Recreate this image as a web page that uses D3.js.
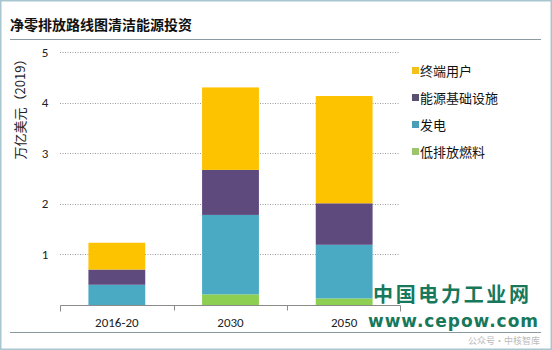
<!DOCTYPE html>
<html><head><meta charset="utf-8">
<script src="https://cdn.jsdelivr.net/npm/d3@7"></script>
<style>body{margin:0;background:#fff;}svg{display:block;}</style>
</head><body>
<svg id="c" width="552" height="350"></svg>
<script>
const categories = ["2016-20", "2030", "2050"];
const seriesNames = ["低排放燃料", "发电", "能源基础设施", "终端用户"];
const lowEmissionFuels = [0.00, 0.21, 0.13];
const powerGeneration = [0.40, 1.57, 1.06];
const infrastructure = [0.30, 0.89, 0.82];
const endUse = [0.53, 1.63, 2.12];
const yTicks = [1, 2, 3, 4, 5];
const colors = ["#8dcf50", "#4aaac4", "#5f4a7e", "#fdc200"];
const legendColors = ["#9cc46a", "#4a9fb8", "#5a5070", "#f2c21a"];

const svg = d3.select("#c");
const W = 552, H = 350;
// frame
svg.append("rect").attr("x",0.5).attr("y",0.5).attr("width",W-1).attr("height",H-1)
  .attr("fill","#fff").attr("stroke","#a8c6cf").attr("stroke-width",2);
svg.append("text").attr("x",10).attr("y",30).text("净零排放路线图清洁能源投资")
  .attr("font-family","Noto Sans CJK SC").attr("font-weight","bold").attr("font-size",14).attr("fill","#111");
svg.append("line").attr("x1",10).attr("x2",541).attr("y1",39.5).attr("y2",39.5).attr("stroke","#8a9aa0").attr("stroke-width",1.2);
svg.append("line").attr("x1",10).attr("x2",541).attr("y1",332.5).attr("y2",332.5).attr("stroke","#8a9aa0").attr("stroke-width",1.2);

const x = d3.scaleBand().domain(categories).range([60, 401]).paddingInner(0.5).paddingOuter(0.25);
const y = d3.scaleLinear().domain([0, 5]).range([305, 52]);

// gridlines
svg.append("g").selectAll("line").data(yTicks).join("line")
  .attr("x1",60).attr("x2",400).attr("y1",d=>Math.round(y(d))+0.5).attr("y2",d=>Math.round(y(d))+0.5)
  .attr("stroke","#9a9a9a").attr("stroke-dasharray","1,1.5").attr("stroke-width",1);

// y tick labels
svg.append("g").selectAll("text").data(yTicks).join("text")
  .attr("x",45).attr("y",d=>y(d)+4.5).attr("text-anchor","middle").text(d=>d)
  .attr("font-family","Calibri, Liberation Sans, sans-serif").attr("font-size",13).attr("fill","#222");

// y label
svg.append("text").attr("transform","translate(25,106) rotate(-90)").attr("text-anchor","middle")
  .text("万亿美元（2019）").attr("font-family","Noto Sans CJK SC").attr("font-size",13).attr("fill","#222");

// stacked data
const rows = categories.map((c,i)=>({cat:c, s0:lowEmissionFuels[i], s1:powerGeneration[i], s2:infrastructure[i], s3:endUse[i]}));
const stack = d3.stack().keys(["s0","s1","s2","s3"])(rows);
svg.append("g").selectAll("g").data(stack).join("g").attr("fill",(d,i)=>colors[i])
  .selectAll("rect").data(d=>d).join("rect")
  .attr("x",d=>x(d.data.cat)).attr("width",x.bandwidth())
  .attr("y",d=>y(d[1])).attr("height",d=>y(d[0])-y(d[1]));

// x axis
const xAxis = d3.axisBottom(x).tickSize(0).tickPadding(12);
const gx = svg.append("g").attr("transform","translate(0,305.5)").call(xAxis);
gx.select(".domain").attr("stroke","#8a8a8a").attr("d","M60.5,6V0H400.5V6");
gx.selectAll("text").attr("font-family","Calibri, Liberation Sans, sans-serif").attr("font-size",13).attr("fill","#222");
// category separators
const seps = categories.slice(1).map(c=>x(c)-x.step()*x.paddingInner()/2);
gx.selectAll("line.sep").data(seps).join("line").attr("class","sep")
  .attr("x1",d=>Math.round(d)+0.5).attr("x2",d=>Math.round(d)+0.5).attr("y1",0).attr("y2",5).attr("stroke","#8a8a8a");

// legend
const legendOrder = [3,2,1,0];
const lg = svg.append("g");
legendOrder.forEach((si,k)=>{
  const yy = 71 + k*27;
  lg.append("rect").attr("x",412).attr("y",yy-4).attr("width",7).attr("height",7).attr("fill",legendColors[si]);
  lg.append("text").attr("x",420).attr("y",yy+5).text(seriesNames[si])
    .attr("font-family","Noto Sans CJK SC").attr("font-size",13).attr("fill","#111");
});

// watermark
svg.append("text").attr("x",373).attr("y",302).text("中国电力工业网")
  .attr("font-family","Noto Sans CJK SC").attr("font-weight","bold").attr("font-size",20).attr("fill","#17785c").attr("textLength",156);
svg.append("text").attr("x",468).attr("y",344).text("公众号·中核智库")
  .attr("font-family","Noto Sans CJK SC").attr("font-size",9).attr("fill","#bbb");
svg.append("text").attr("x",368).attr("y",327).text("www.cepow.com")
  .attr("font-family","DejaVu Sans").attr("font-weight","bold").attr("font-size",17).attr("fill","#17785c").attr("textLength",170);
</script>
</body></html>
